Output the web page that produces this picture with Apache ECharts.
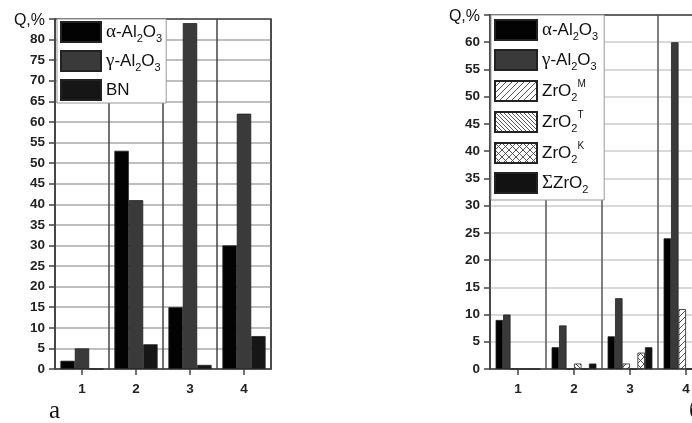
<!DOCTYPE html>
<html>
<head>
<meta charset="utf-8">
<script src="https://cdn.jsdelivr.net/npm/echarts@6/dist/echarts.min.js"></script>
<style>
html,body{margin:0;padding:0;background:#fff;}
#chart{width:692px;height:423px;}
</style>
</head>
<body>
<div id="chart"></div>
<script>
// ---- data ----
const categories = ['1', '2', '3', '4'];
// chart а
const aAlphaAl2O3 = [2, 53, 15, 30];
const aGammaAl2O3 = [5, 41, 84, 62];
const aBN = [0, 6, 1, 8];
// chart б
const bAlphaAl2O3 = [9, 4, 6, 24];
const bGammaAl2O3 = [10, 8, 13, 60];
const bZrO2M = [0, 0, 1, 11];
const bZrO2T = [0, 1, 0, 0];
const bZrO2K = [0, 0, 3, 0];
const bZrO2Sum = [0, 1, 4, 11];
const legendA = ['α-Al2O3', 'γ-Al2O3', 'BN'];
const legendB = ['α-Al2O3', 'γ-Al2O3', 'ZrO2M', 'ZrO2T', 'ZrO2K', 'ΣZrO2'];
const panelLabels = ['а', 'б'];

// ---- styling helpers ----
function hatch(size, dirs) {
  const c = document.createElement('canvas');
  c.width = size; c.height = size;
  const ctx = c.getContext('2d');
  ctx.fillStyle = '#fff';
  ctx.fillRect(0, 0, size, size);
  ctx.strokeStyle = '#444';
  ctx.lineWidth = 0.9;
  dirs.forEach(function (d) {
    for (let k = -1; k <= 1; k++) {
      ctx.beginPath();
      if (d === '/') { ctx.moveTo(k * size, size); ctx.lineTo(k * size + size, 0); }
      else { ctx.moveTo(k * size, 0); ctx.lineTo(k * size + size, size); }
      ctx.stroke();
    }
  });
  return { image: c, repeat: 'repeat' };
}

const richMap = {
  'α-Al2O3': '{g|α}{t|-Al}{s|2}{t|O}{s|3}',
  'γ-Al2O3': '{g|γ}{t|-Al}{s|2}{t|O}{s|3}',
  'BN': '{t|BN}',
  'ZrO2M': '{t|ZrO}{s|2}{p|M}',
  'ZrO2T': '{t|ZrO}{s|2}{p|T}',
  'ZrO2K': '{t|ZrO}{s|2}{p|K}',
  'ΣZrO2': '{g|Σ}{t|ZrO}{s|2}'
};
const rich = {
  t: { fontFamily: 'Liberation Sans', fontSize: 17, color: '#111', lineHeight: 24, verticalAlign: 'middle' },
  g: { fontFamily: 'Liberation Serif', fontSize: 19, color: '#111', lineHeight: 24, verticalAlign: 'middle' },
  s: { fontFamily: 'Liberation Sans', fontSize: 11, color: '#111', lineHeight: 9, verticalAlign: 'bottom' },
  p: { fontFamily: 'Liberation Sans', fontSize: 10, color: '#111', lineHeight: 8, verticalAlign: 'top' }
};

const styles = {
  'α-Al2O3': { color: '#030303' },
  'γ-Al2O3': { color: '#3a3a3a' },
  'BN': { color: '#161616' },
  'ZrO2M': { color: hatch(6, ['/']) },
  'ZrO2T': { color: hatch(4, ['\\']) },
  'ZrO2K': { color: hatch(7, ['/', '\\']) },
  'ΣZrO2': { color: '#121212' }
};

function bar(name, data, idx) {
  return {
    type: 'bar', name: name, data: data,
    xAxisIndex: idx, yAxisIndex: idx,
    barGap: '0%', barCategoryGap: '20%',
    itemStyle: Object.assign({ borderColor: '#222', borderWidth: 0.8 }, styles[name])
  };
}

function yAxis(idx, max, vColor) {
  return {
    type: 'value', gridIndex: idx, min: 0, max: max, interval: 5,
    axisLine: { show: true, lineStyle: { color: '#444', width: 1.5 } },
    axisTick: { show: true, length: 6, lineStyle: { color: '#444', width: 1.5 } },
    axisLabel: {
      margin: 10, color: '#222', fontFamily: 'Liberation Sans', fontSize: 13.5, fontWeight: 'bold',
      formatter: function (v) { return v === max ? '{q|Q,%}' : String(v); },
      rich: { q: { fontFamily: 'Liberation Sans', fontSize: 16, fontWeight: 'normal', color: '#111', padding: [3, 0, 0, 0] } }
    },
    splitLine: { show: true, showMaxLine: false, lineStyle: { color: vColor, width: 1.5 } }
  };
}
function xAxis(idx, lineColor) {
  return {
    type: 'category', gridIndex: idx, data: categories,
    axisLine: { show: true, lineStyle: { color: '#444', width: 1.5 } },
    axisTick: { show: true, alignWithLabel: true, length: 6, lineStyle: { color: '#444', width: 1.5 } },
    axisLabel: { margin: 13, color: '#222', fontFamily: 'Liberation Sans', fontSize: 13.5, fontWeight: 'bold' },
    splitLine: { show: true, interval: 0, lineStyle: { color: lineColor, width: 1.5 } }
  };
}
function legend(left, top, padding, data, w, gap) {
  return {
    orient: 'vertical', left: left, top: top, padding: padding,
    data: data, itemWidth: w, itemHeight: 20, itemGap: gap,
    icon: 'rect', backgroundColor: '#fff', borderColor: '#999', borderWidth: 1,
    selectedMode: false,
    formatter: function (n) { return richMap[n]; },
    textStyle: { rich: rich }
  };
}

const chart = echarts.init(document.getElementById('chart'), null, { renderer: 'canvas' });
chart.setOption({
  animation: false,
  backgroundColor: '#fff',
  title: [
    { text: panelLabels[0], left: 44, top: 394, textStyle: { fontFamily: 'Liberation Serif', fontSize: 25, fontWeight: 'normal', color: '#111' } },
    { text: panelLabels[1], left: 684, top: 394, textStyle: { fontFamily: 'Liberation Serif', fontSize: 25, fontWeight: 'normal', color: '#111' } }
  ],
  grid: [
    { left: 55, top: 19, width: 216, height: 350, show: true, borderColor: '#333', borderWidth: 1.5, backgroundColor: 'transparent', outerBoundsMode: 'none' },
    { left: 490, top: 15, width: 224, height: 354, show: true, borderColor: '#333', borderWidth: 1.5, backgroundColor: 'transparent', outerBoundsMode: 'none' }
  ],
  xAxis: [xAxis(0, '#444'), xAxis(1, '#555')],
  yAxis: [yAxis(0, 85, '#aaa'), yAxis(1, 65, '#ccc')],
  legend: [
    legend(57, 19, [2, 4, 2, 3], legendA, 40, 6),
    legend(491, 15, [4, 6, 5, 3], legendB, 42, 7)
  ],
  series: [
    bar('α-Al2O3', aAlphaAl2O3, 0),
    bar('γ-Al2O3', aGammaAl2O3, 0),
    bar('BN', aBN, 0),
    bar('α-Al2O3', bAlphaAl2O3, 1),
    bar('γ-Al2O3', bGammaAl2O3, 1),
    bar('ZrO2M', bZrO2M, 1),
    bar('ZrO2T', bZrO2T, 1),
    bar('ZrO2K', bZrO2K, 1),
    bar('ΣZrO2', bZrO2Sum, 1)
  ]
});
</script>
</body>
</html>
